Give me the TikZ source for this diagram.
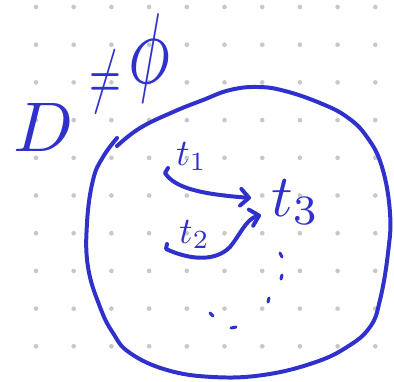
\documentclass[tikz,border=0pt]{standalone}
\usepackage{tikz}
\usetikzlibrary{arrows.meta}
\definecolor{pen}{RGB}{48,48,204}
\definecolor{dotgray}{RGB}{200,200,200}
\tikzset{
  ink/.style={draw=pen, line width=3.4pt, line cap=round, line join=round},
  flow/.style={ink, -{Straight Barb[length=0.25cm, width=0.5cm, round]}},
  hand/.style={text=pen, inner sep=0pt},
  griddot/.style={fill=dotgray, draw=none},
}

\begin{document}
\begin{tikzpicture}[x=0.03cm, y=-0.03cm]
  \useasboundingbox (0,0) rectangle (394,381);
  % dotted paper
  \foreach \i in {0,...,9}
    \foreach \j in {0,...,9}
      \fill[griddot] ({36+37.7*\i},{7+37.7*\j}) circle (0.07cm);

  % D != phi
  \node[hand] (D) at (44,127) {\scalebox{6}[6]{$D$}};
  \node[hand] (neq) at (105,82) {\scalebox{3.5}[6]{$\neq$}};
  \node[hand] (phi) at (149,58) {\scalebox{6}[8.6]{$\phi$}};

  % the set
  \draw[ink] plot[smooth, tension=0.7] coordinates {
    (117,146) (140,128) (173,112) (203,100) (230,90) (258,87) (285,91)
    (320,103) (347,117) (367,137) (382,167) (390,213) (388,253) (380,300)
    (370,327) (347,347) (313,363) (263,375) (213,377) (167,370) (130,353)
    (113,333) (100,307) (88,267) (87,223) (93,180) (103,157) (117,138)};

  % elements
  \node[hand, anchor=base west] (t1) at (176,165) {\scalebox{3.2}{$t_1$}};
  \node[hand, anchor=base west] (t2) at (179,243) {\scalebox{3.2}{$t_2$}};
  \node[hand, anchor=base west] (t3) at (271,216) {\scalebox{5.1}{$t_3$}};

  \coordinate (s1) at (168,168);
  \coordinate (s2) at (167,244);
  \draw[flow] (s1) -- (165,173) .. controls (175,188) and (200,194) .. ([shift={(-20,-18)}]t3.base west);
  \draw[flow] (s2) -- (166,249) .. controls (190,260) and (215,262) .. (230,247)
    .. controls (240,235) and (246,219) .. ([shift={(-10,-1)}]t3.base west);

  % more of them
  \draw[ink, line width=2.6pt] (280,253) -- (282,257) (282,275) -- (281,279)
    (269,298) -- (268,302) (210,313) -- (213,316) (231,328) -- (236,327);
\end{tikzpicture}
\end{document}
